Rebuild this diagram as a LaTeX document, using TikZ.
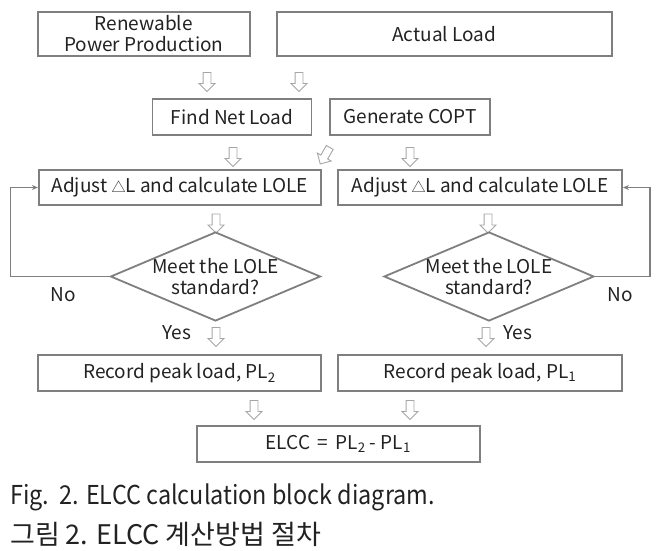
\documentclass[tikz,border=0pt]{standalone}
\usepackage{fontspec}
\usetikzlibrary{shapes.geometric,shapes.arrows,arrows.meta,positioning}
\setmainfont{Noto Sans CJK KR}
\newfontfamily\ElccCaptionFamily[FakeStretch=0.9]{Noto Sans CJK KR}
\definecolor{boxgray}{HTML}{7F7F7F}
\definecolor{arrowgray}{HTML}{A6A6A6}
\definecolor{textdark}{HTML}{222222}
\newcommand{\ElccBoxFont}{\fontsize{19pt}{21pt}\selectfont}
\newcommand{\ElccCaptionFont}{\ElccCaptionFamily\fontsize{26pt}{30pt}\selectfont}
\newcommand{\ElccKoreanFont}{\fontsize{27pt}{30pt}\selectfont}
\newcommand{\ElccDelta}{{\fontsize{14pt}{14pt}\selectfont △}}
\tikzset{
  blockbox/.style={
    draw=boxgray, line width=1.8pt, inner sep=0pt,
    align=center, text=textdark, font=\ElccBoxFont
  },
  decision/.style={
    draw=boxgray, line width=1.8pt, shape=diamond, inner sep=0pt,
    minimum width=210pt, minimum height=89pt
  },
  decision text/.style={
    inner sep=0pt, align=center, text=textdark, font=\ElccBoxFont
  },
  hollow arrow/.style={
    draw=arrowgray, fill=white, line width=0.9pt, shape=single arrow,
    single arrow head extend=4pt, inner sep=3.5pt, minimum height=19pt,
    rotate=-90
  },
  loop line/.style={
    draw=boxgray, line width=1.3pt, -{Stealth[length=6pt,width=5pt]}
  },
  branch label/.style={font=\ElccBoxFont, text=textdark, inner sep=0pt},
  caption line/.style={text=textdark, anchor=west, inner sep=0pt}
}

\begin{document}
\begin{tikzpicture}[x=1pt, y=-1pt]
  \useasboundingbox (0,0) rectangle (667,551);
  % inputs
  \node[blockbox, minimum width=212pt, minimum height=44pt] (renew) at (143.8,34) {Renewable\\Power Production};
  \node[blockbox, minimum width=335pt, minimum height=44pt] (actual) at (444.2,34) {Actual Load};
  \node[hollow arrow] (h1) at (207,80) {};
  \node[hollow arrow] (h2) at (299,80) {};
  % preparation
  \node[blockbox, minimum width=159pt, minimum height=36pt] (netload) at (232,117) {Find Net Load};
  \node[blockbox, minimum width=160pt, minimum height=36pt] (copt) at (410,117) {Generate COPT};
  \node[hollow arrow] (h3) at (233,155) {};
  \node[hollow arrow, rotate=-30] (h4) at (326,154) {};
  \node[hollow arrow] (h5) at (410,155) {};
  % adjust loops
  \node[blockbox, minimum width=282pt, minimum height=35pt] (adjleft) at (179.8,187.5) {Adjust \ElccDelta L and calculate LOLE};
  \node[blockbox, minimum width=284pt, minimum height=35pt] (adjright) at (480,187.5) {Adjust \ElccDelta L and calculate LOLE};
  \node[hollow arrow] (h6) at (216,221.5) {};
  \node[hollow arrow] (h7) at (488,221.5) {};
  \node[decision, label={[decision text]center:{Meet the LOLE\\standard?}}] (decleft) at (215.5,276.5) {};
  \node[decision, label={[decision text]center:{Meet the LOLE\\standard?}}] (decright) at (489,276.5) {};
  \coordinate (loopleft) at (10.7,276.5);
  \coordinate (loopright) at (650,276.5);
  \draw[loop line] (decleft.west) -- (loopleft) |- (adjleft.west);
  \draw[loop line] (decright.east) -- (loopright) |- (adjright.east);
  \node[branch label] (noleft) at (63,295) {No};
  \node[branch label] (noright) at (620,295) {No};
  \node[hollow arrow] (h8) at (216,335) {};
  \node[hollow arrow] (h9) at (486,335) {};
  \node[branch label] (yesleft) at (177,333) {Yes};
  \node[branch label] (yesright) at (518,333) {Yes};
  % results
  \node[blockbox, minimum width=283pt, minimum height=36pt] (recleft) at (179.5,373) {Record peak load, PL\textsubscript{2}};
  \node[blockbox, minimum width=284pt, minimum height=36pt] (recright) at (480,373) {Record peak load, PL\textsubscript{1}};
  \node[hollow arrow] (h10) at (254,408) {};
  \node[hollow arrow] (h11) at (410,408) {};
  \node[blockbox, minimum width=283pt, minimum height=36pt] (elcc) at (338.3,444) {ELCC \,=\, PL\textsubscript{2} - PL\textsubscript{1}};
  % caption
  \node[caption line, font=\ElccCaptionFont] (capen) at (10,497) {Fig.\ \ 2. ELCC calculation block diagram.};
  \node[caption line, font=\ElccKoreanFont] (capko) at (10,534) {그림 2. ELCC 계산방법 절차};
\end{tikzpicture}
\end{document}
